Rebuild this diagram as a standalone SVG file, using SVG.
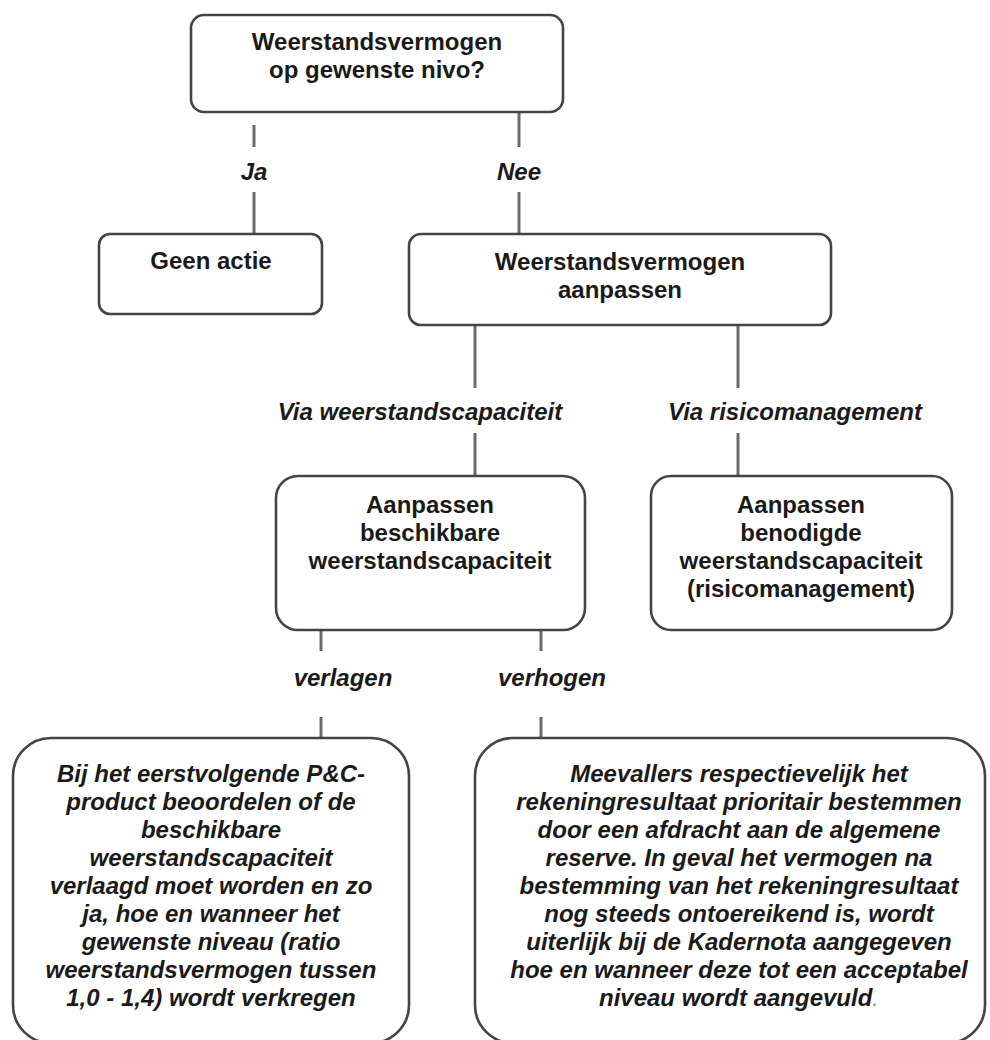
<svg xmlns="http://www.w3.org/2000/svg" width="990" height="1040" viewBox="0 0 990 1040">
<style>
.box{fill:#fff;stroke:#444;stroke-width:2.6}
.t{font-family:"Liberation Sans",Arial,sans-serif;font-size:24px;font-weight:bold;fill:#1a1a1a;text-anchor:middle}
.i{font-style:italic}
.c{stroke:#6a6a6a;stroke-width:3;fill:none}
</style>
<rect width="990" height="1040" fill="#fff"/>
<g id="connectors">
<line class="c" x1="254" y1="125" x2="254" y2="147"/>
<line class="c" x1="254" y1="192" x2="254" y2="235"/>
<line class="c" x1="519" y1="112" x2="519" y2="147"/>
<line class="c" x1="519" y1="192" x2="519" y2="235"/>
<line class="c" x1="475" y1="325" x2="475" y2="388"/>
<line class="c" x1="475" y1="433" x2="475" y2="477"/>
<line class="c" x1="738" y1="325" x2="738" y2="388"/>
<line class="c" x1="738" y1="433" x2="738" y2="477"/>
<line class="c" x1="321" y1="630" x2="321" y2="651"/>
<line class="c" x1="321" y1="717" x2="321" y2="739"/>
<line class="c" x1="541" y1="630" x2="541" y2="651"/>
<line class="c" x1="541" y1="717" x2="541" y2="739"/>
<text class="t i" x="254" y="180">Ja</text>
<text class="t i" x="519" y="180">Nee</text>
<text class="t i" x="420" y="420">Via weerstandscapaciteit</text>
<text class="t i" x="795" y="420">Via risicomanagement</text>
<text class="t i" x="343" y="686">verlagen</text>
<text class="t i" x="552" y="686">verhogen</text>
</g>
<g id="node-top">
<rect class="box" x="191" y="15" width="372" height="97" rx="13"/>
<text class="t" x="377" y="50">Weerstandsvermogen</text>
<text class="t" x="377" y="78">op gewenste nivo?</text>
</g>
<g id="node-geen-actie">
<rect class="box" x="99" y="234" width="223" height="80" rx="11"/>
<text class="t" x="211" y="269">Geen actie</text>
</g>
<g id="node-aanpassen">
<rect class="box" x="409" y="234" width="422" height="91" rx="12"/>
<text class="t" x="620" y="270">Weerstandsvermogen</text>
<text class="t" x="620" y="298">aanpassen</text>
</g>
<g id="node-beschikbare">
<rect class="box" x="276" y="476" width="309" height="154" rx="22"/>
<text class="t" x="430" y="513">Aanpassen</text>
<text class="t" x="430" y="541">beschikbare</text>
<text class="t" x="430" y="569">weerstandscapaciteit</text>
</g>
<g id="node-benodigde">
<rect class="box" x="651" y="476" width="301" height="154" rx="20"/>
<text class="t" x="801" y="513">Aanpassen</text>
<text class="t" x="801" y="541">benodigde</text>
<text class="t" x="801" y="569">weerstandscapaciteit</text>
<text class="t" x="801" y="597">(risicomanagement)</text>
</g>
<g id="node-verlagen">
<rect class="box" x="13" y="738" width="396" height="305" rx="38"/>
<text class="t i" x="211" y="782">Bij het eerstvolgende P&amp;C-</text>
<text class="t i" x="211" y="810">product beoordelen of de</text>
<text class="t i" x="211" y="838">beschikbare</text>
<text class="t i" x="211" y="866">weerstandscapaciteit</text>
<text class="t i" x="211" y="894">verlaagd moet worden en zo</text>
<text class="t i" x="211" y="922">ja, hoe en wanneer het</text>
<text class="t i" x="211" y="950">gewenste niveau (ratio</text>
<text class="t i" x="211" y="978">weerstandsvermogen tussen</text>
<text class="t i" x="211" y="1006">1,0 - 1,4) wordt verkregen</text>
</g>
<g id="node-verhogen">
<rect class="box" x="475" y="738" width="510" height="305" rx="38"/>
<text class="t i" x="739" y="782">Meevallers respectievelijk het</text>
<text class="t i" x="739" y="810">rekeningresultaat prioritair bestemmen</text>
<text class="t i" x="739" y="838">door een afdracht aan de algemene</text>
<text class="t i" x="739" y="866">reserve. In geval het vermogen na</text>
<text class="t i" x="739" y="894">bestemming van het rekeningresultaat</text>
<text class="t i" x="739" y="922">nog steeds ontoereikend is, wordt</text>
<text class="t i" x="739" y="950">uiterlijk bij de Kadernota aangegeven</text>
<text class="t i" x="739" y="978">hoe en wanneer deze tot een acceptabel</text>
<text class="t i" x="739" y="1006">niveau wordt aangevuld<tspan style="fill:#999;font-weight:normal">.</tspan></text>
</g>
</svg>
